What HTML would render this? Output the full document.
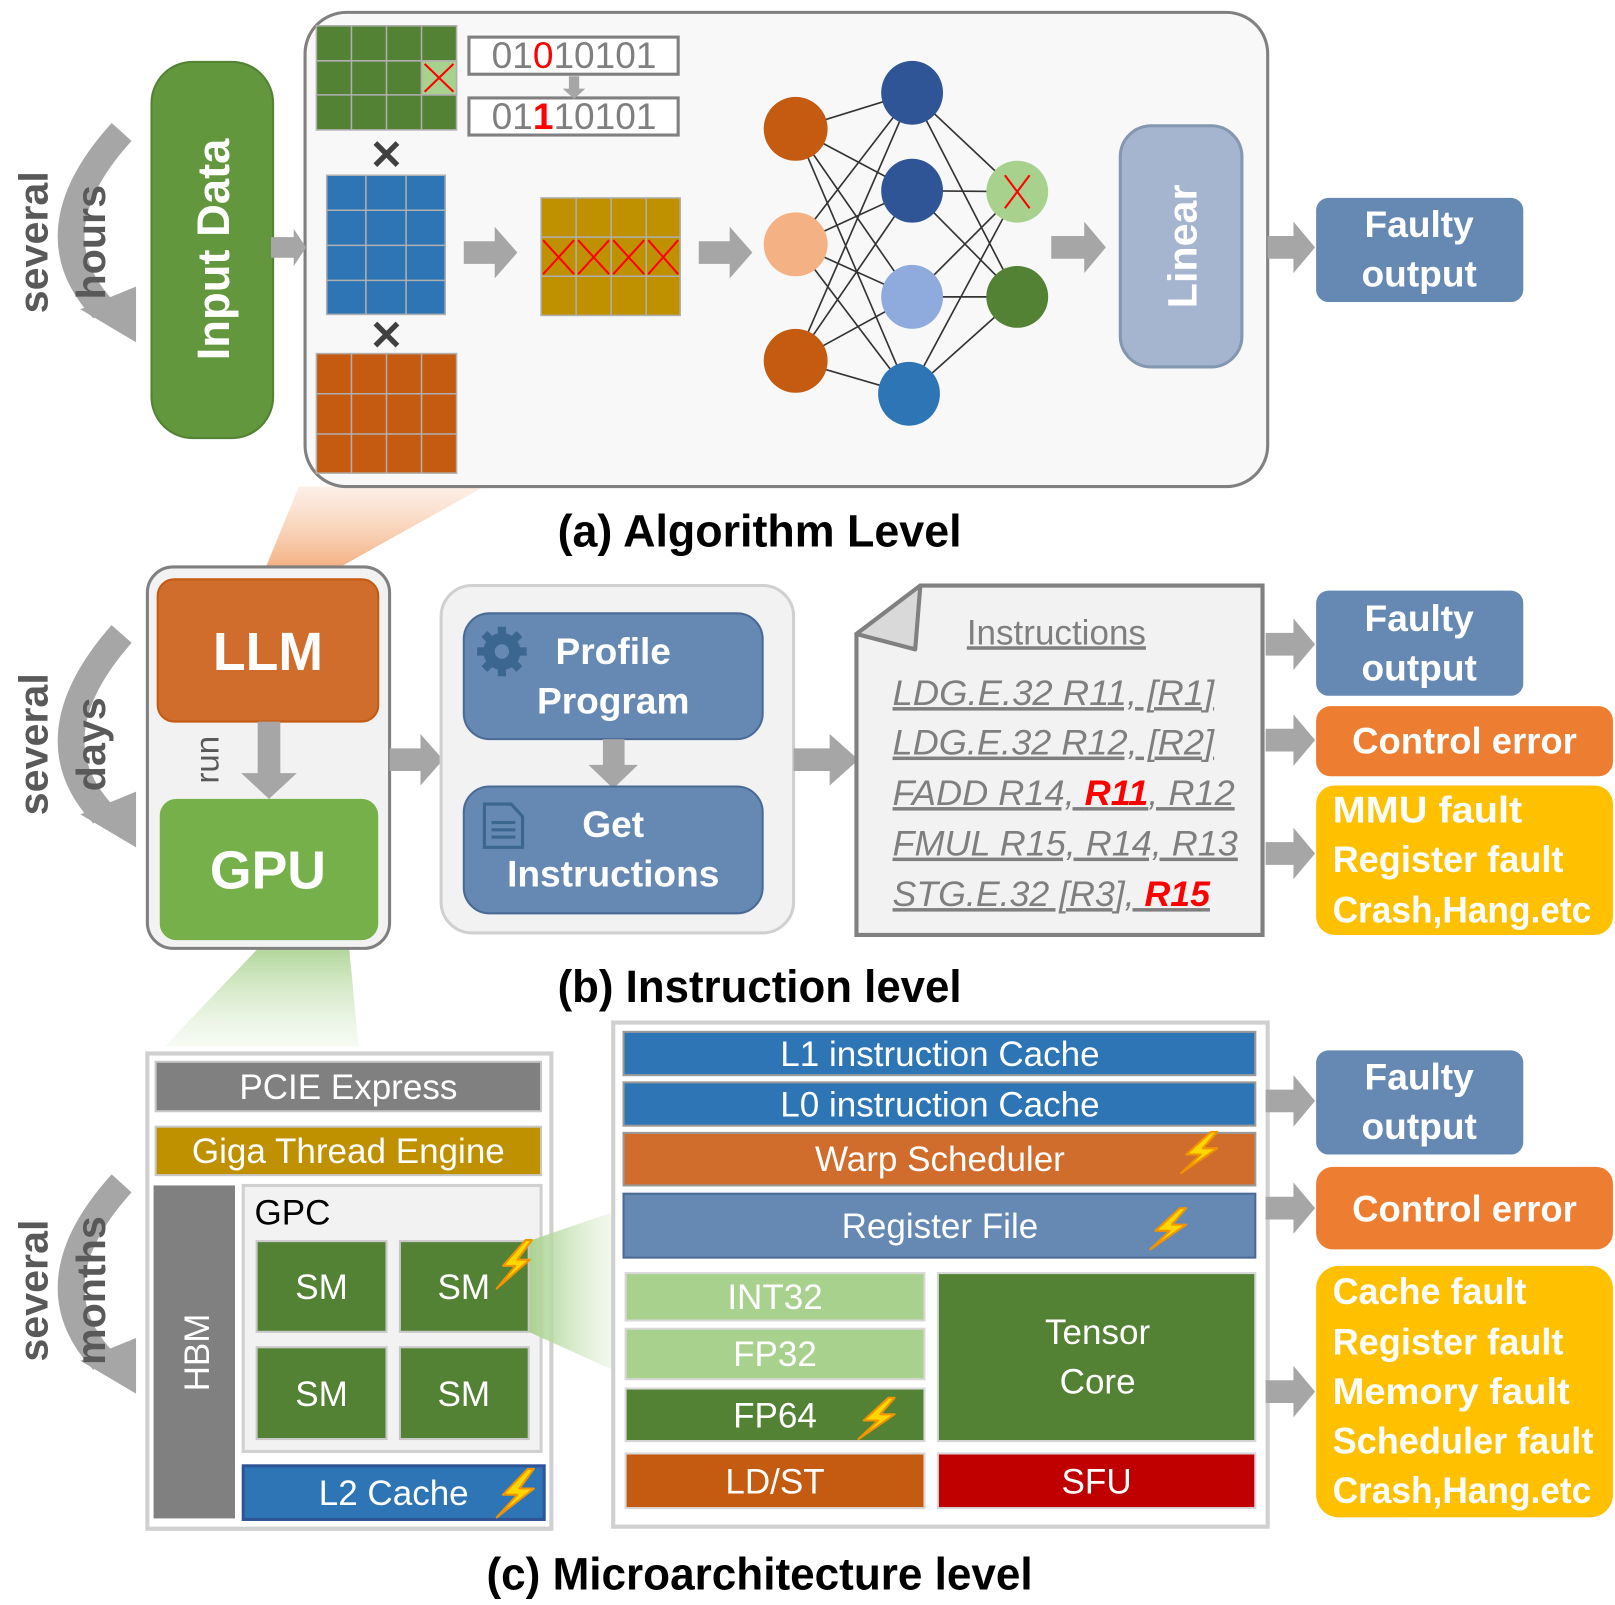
<!DOCTYPE html>
<html><head><meta charset="utf-8">
<style>
html,body{margin:0;padding:0;background:#fff;}
svg{display:block;}
text{font-family:"Liberation Sans Narrow","Liberation Sans",sans-serif;}
.w{fill:#fff;font-weight:bold;}
.wn{fill:#fff;}
</style></head><body>
<svg width="1615" height="1605" viewBox="0 0 1567 1557" preserveAspectRatio="none" xmlns="http://www.w3.org/2000/svg">
<defs>
<linearGradient id="peach" x1="0" y1="1" x2="0" y2="0"><stop offset="0" stop-color="#f4b183"/><stop offset="1" stop-color="#fbe5d6" stop-opacity="0.6"/></linearGradient>
<linearGradient id="grn" x1="0" y1="0" x2="0" y2="1"><stop offset="0" stop-color="#a9d18e"/><stop offset="1" stop-color="#e2f0d9" stop-opacity="0.3"/></linearGradient>
<linearGradient id="grnh" x1="0" y1="0" x2="1" y2="0"><stop offset="0" stop-color="#a9d18e"/><stop offset="1" stop-color="#e2f0d9" stop-opacity="0.4"/></linearGradient>
</defs>

<!-- ===== (a) ===== -->
<polygon points="290,472 470,472 330,550 258,550" fill="url(#peach)"/>
<rect x="296" y="12" width="934" height="460" rx="40" fill="#f8f8f8" stroke="#808080" stroke-width="3"/>

<path d="M118,128 Q30,225 100,300" fill="none" stroke="#a6a6a6" stroke-width="26"/>
<polygon points="78,300 132,278 132,332" fill="#a6a6a6"/>
<text transform="translate(46,235) rotate(-90)" text-anchor="middle" font-size="40" font-weight="bold" fill="#595959" font-family="Liberation Sans">several</text>
<text transform="translate(102,235) rotate(-90)" text-anchor="middle" font-size="40" font-weight="bold" fill="#595959" font-family="Liberation Sans">hours</text>

<rect x="147" y="60" width="118" height="365" rx="40" fill="#62973d" stroke="#548235" stroke-width="2"/>
<text transform="translate(222,242) rotate(-90)" text-anchor="middle" font-size="44" class="w" font-family="Liberation Sans">Input Data</text>

<g stroke="#b0b0b0" stroke-width="1.5">
<rect x="307" y="25" width="136" height="101" fill="#548235"/>
<rect x="409" y="59" width="34" height="33" fill="#a9d18e"/>
<line x1="341" y1="25" x2="341" y2="126"/><line x1="375" y1="25" x2="375" y2="126"/><line x1="409" y1="25" x2="409" y2="126"/>
<line x1="307" y1="59" x2="443" y2="59"/><line x1="307" y1="92" x2="443" y2="92"/>
</g>
<path d="M412,62 L440,89 M440,62 L412,89" stroke="#f00" stroke-width="2"/>
<rect x="455" y="36" width="203" height="36" fill="#fff" stroke="#808080" stroke-width="3"/>
<rect x="455" y="95" width="203" height="36" fill="#fff" stroke="#808080" stroke-width="3"/>
<text x="557" y="66" text-anchor="middle" font-size="36" fill="#7f7f7f" textLength="160" lengthAdjust="spacingAndGlyphs">01<tspan fill="#f00">0</tspan>10101</text>
<text x="557" y="125" text-anchor="middle" font-size="36" fill="#7f7f7f" textLength="160" lengthAdjust="spacingAndGlyphs">01<tspan fill="#f00" font-weight="bold">1</tspan>10101</text>
<polygon points="552,74 562,74 562,86 568,86 557,96 546,86 552,86" fill="#a6a6a6"/>
<text x="375" y="164" text-anchor="middle" font-size="40" font-weight="bold" fill="#404040" font-family="Liberation Sans">✕</text>
<text x="375" y="339" text-anchor="middle" font-size="40" font-weight="bold" fill="#404040" font-family="Liberation Sans">✕</text>
<g stroke="#b0b0b0" stroke-width="1.5">
<rect x="317" y="170" width="115" height="135" fill="#2e75b6"/>
<line x1="355" y1="170" x2="355" y2="305"/><line x1="394" y1="170" x2="394" y2="305"/>
<line x1="317" y1="204" x2="432" y2="204"/><line x1="317" y1="238" x2="432" y2="238"/><line x1="317" y1="272" x2="432" y2="272"/>
</g>
<g stroke="#b0b0b0" stroke-width="1.5">
<rect x="307" y="343" width="136" height="116" fill="#c55a11"/>
<line x1="341" y1="343" x2="341" y2="459"/><line x1="375" y1="343" x2="375" y2="459"/><line x1="409" y1="343" x2="409" y2="459"/>
<line x1="307" y1="382" x2="443" y2="382"/><line x1="307" y1="421" x2="443" y2="421"/>
</g>
<g stroke="#b0b0b0" stroke-width="1.5">
<rect x="525" y="192" width="135" height="114" fill="#bf9000"/>
<line x1="559" y1="192" x2="559" y2="306"/><line x1="593" y1="192" x2="593" y2="306"/><line x1="627" y1="192" x2="627" y2="306"/>
<line x1="525" y1="230" x2="660" y2="230"/><line x1="525" y1="268" x2="660" y2="268"/>
</g>
<path d="M527,233 L557,266 M557,233 L527,266 M561,233 L591,266 M591,233 L561,266 M595,233 L625,266 M625,233 L595,266 M629,233 L658,266 M658,233 L629,266" stroke="#f00" stroke-width="2"/>

<g fill="#a6a6a6">
<polygon points="263,230 285,230 285,222 297,240 285,258 285,250 263,250"/>
<polygon points="450,234 480,234 480,220 502,245 480,270 480,256 450,256"/>
<polygon points="678,234 708,234 708,220 730,245 708,270 708,256 678,256"/>
<polygon points="1020,229 1052,229 1052,215 1073,240 1052,265 1052,251 1020,251"/>
<polygon points="1230,229 1255,229 1255,215 1276,240 1255,265 1255,251 1230,251"/>
</g>

<g stroke="#333" stroke-width="1.6">
<path d="M772,125 L885,90 M772,125 L885,185 M772,125 L885,288 M772,125 L882,382
M772,237 L885,90 M772,237 L885,185 M772,237 L885,288 M772,237 L882,382
M772,350 L885,90 M772,350 L885,185 M772,350 L885,288 M772,350 L882,382
M885,90 L987,186 M885,90 L987,288 M885,185 L987,186 M885,185 L987,288
M885,288 L987,186 M885,288 L987,288 M882,382 L987,186 M882,382 L987,288"/>
</g>
<ellipse cx="772" cy="125" rx="31" ry="31" fill="#c55a11"/>
<ellipse cx="772" cy="237" rx="31" ry="31" fill="#f4b183"/>
<ellipse cx="772" cy="350" rx="31" ry="31" fill="#c55a11"/>
<ellipse cx="885" cy="90" rx="30" ry="31" fill="#2f5597"/>
<ellipse cx="885" cy="185" rx="30" ry="31" fill="#2f5597"/>
<ellipse cx="885" cy="288" rx="30" ry="31" fill="#8faadc"/>
<ellipse cx="882" cy="382" rx="30" ry="31" fill="#2e75b6"/>
<ellipse cx="987" cy="186" rx="30" ry="30" fill="#a9d18e"/>
<ellipse cx="987" cy="288" rx="30" ry="30" fill="#548235"/>
<path d="M975,170 L999,202 M999,170 L975,202" stroke="#f00" stroke-width="2"/>

<rect x="1087" y="122" width="118" height="234" rx="30" fill="#a5b5cf" stroke="#8497b0" stroke-width="3"/>
<text transform="translate(1161,239) rotate(-90)" text-anchor="middle" font-size="40" class="w" font-family="Liberation Sans">Linear</text>

<rect x="1277" y="192" width="201" height="101" rx="12" fill="#6589b3"/>
<text x="1377" y="230" text-anchor="middle" font-size="36" class="w">Faulty</text>
<text x="1377" y="278" text-anchor="middle" font-size="36" class="w">output</text>

<text x="737" y="530" text-anchor="middle" font-size="44" font-weight="bold" fill="#000" textLength="392" lengthAdjust="spacingAndGlyphs">(a) Algorithm  Level</text>

<!-- ===== (b) ===== -->
<path d="M118,615 Q30,715 100,790" fill="none" stroke="#a6a6a6" stroke-width="26"/>
<polygon points="78,790 132,768 132,822" fill="#a6a6a6"/>
<text transform="translate(46,722) rotate(-90)" text-anchor="middle" font-size="40" font-weight="bold" fill="#595959" font-family="Liberation Sans">several</text>
<text transform="translate(102,722) rotate(-90)" text-anchor="middle" font-size="40" font-weight="bold" fill="#595959" font-family="Liberation Sans">days</text>

<polygon points="258,912 338,912 348,1015 160,1015" fill="url(#grn)"/>
<rect x="143" y="550" width="235" height="370" rx="25" fill="#f2f2f2" stroke="#808080" stroke-width="3"/>
<rect x="153" y="562" width="214" height="138" rx="16" fill="#d06c2c" stroke="#c55a11" stroke-width="2"/>
<text x="260" y="650" text-anchor="middle" font-size="52" class="w">LLM</text>
<polygon points="250,700 272,700 272,750 288,750 261,775 234,750 250,750" fill="#a6a6a6"/>
<text transform="translate(212,737) rotate(-90)" text-anchor="middle" font-size="32" fill="#595959" font-family="Liberation Sans">run</text>
<rect x="155" y="775" width="212" height="137" rx="16" fill="#76b04a"/>
<text x="260" y="862" text-anchor="middle" font-size="52" class="w">GPU</text>

<polygon points="378,726 408,726 408,712 430,737 408,762 408,748 378,748" fill="#a6a6a6"/>
<rect x="428" y="568" width="342" height="337" rx="30" fill="#f2f2f2" stroke="#d0d0d0" stroke-width="3"/>
<rect x="450" y="595" width="290" height="122" rx="25" fill="#6589b3" stroke="#4a6a95" stroke-width="2"/>
<text x="595" y="644" text-anchor="middle" font-size="36" class="w">Profile</text>
<text x="595" y="692" text-anchor="middle" font-size="36" class="w">Program</text>
<g fill="#3b6690">
<circle cx="487" cy="632" r="18"/>
<g stroke="#3b6690" stroke-width="8"><line x1="487" y1="608" x2="487" y2="656"/><line x1="463" y1="632" x2="511" y2="632"/><line x1="470" y1="615" x2="504" y2="649"/><line x1="504" y1="615" x2="470" y2="649"/></g>
<circle cx="487" cy="632" r="7" fill="#6589b3"/>
</g>
<polygon points="585,717 606,717 606,742 619,742 595,765 571,742 585,742" fill="#a6a6a6"/>
<rect x="450" y="763" width="290" height="123" rx="25" fill="#6589b3" stroke="#4a6a95" stroke-width="2"/>
<text x="595" y="812" text-anchor="middle" font-size="36" class="w">Get</text>
<text x="595" y="860" text-anchor="middle" font-size="36" class="w">Instructions</text>
<path d="M470,780 L496,780 L507,792 L507,822 L470,822 Z" fill="none" stroke="#3b6690" stroke-width="3"/>
<g stroke="#3b6690" stroke-width="3"><line x1="477" y1="798" x2="500" y2="798"/><line x1="477" y1="805" x2="500" y2="805"/><line x1="477" y1="812" x2="500" y2="812"/></g>

<polygon points="770,726 805,726 805,712 833,737 805,762 805,748 770,748" fill="#a6a6a6"/>
<polygon points="893,568 1225,568 1225,907 831,907 831,615" fill="#f2f2f2" stroke="#808080" stroke-width="4"/>
<polygon points="831,615 893,568 888,630" fill="#d9d9d9" stroke="#808080" stroke-width="4" stroke-linejoin="round"/>
<text x="1025" y="625" text-anchor="middle" font-size="34" fill="#7f7f7f" text-decoration="underline" font-family="Liberation Sans">Instructions</text>
<g font-size="34" fill="#7f7f7f" font-style="italic" text-decoration="underline">
<text x="866" y="684" textLength="312" lengthAdjust="spacingAndGlyphs">LDG.E.32 R11, [R1]</text>
<text x="866" y="732" textLength="312" lengthAdjust="spacingAndGlyphs">LDG.E.32 R12, [R2]</text>
<text x="866" y="781" textLength="332" lengthAdjust="spacingAndGlyphs">FADD R14, <tspan fill="#f00" font-weight="bold">R11</tspan>, R12</text>
<text x="866" y="830" textLength="335" lengthAdjust="spacingAndGlyphs">FMUL R15, R14, R13</text>
<text x="866" y="879" textLength="308" lengthAdjust="spacingAndGlyphs">STG.E.32 [R3], <tspan fill="#f00" font-weight="bold">R15</tspan></text>
</g>

<g fill="#a6a6a6">
<polygon points="1228,614 1255,614 1255,600 1276,625 1255,650 1255,636 1228,636"/>
<polygon points="1228,707 1255,707 1255,693 1276,718 1255,743 1255,729 1228,729"/>
<polygon points="1228,817 1255,817 1255,803 1276,828 1255,853 1255,839 1228,839"/>
</g>
<rect x="1277" y="573" width="201" height="102" rx="12" fill="#6589b3"/>
<text x="1377" y="612" text-anchor="middle" font-size="36" class="w">Faulty</text>
<text x="1377" y="660" text-anchor="middle" font-size="36" class="w">output</text>
<rect x="1277" y="685" width="288" height="68" rx="14" fill="#ed7d31"/>
<text x="1421" y="731" text-anchor="middle" font-size="36" class="w" textLength="218" lengthAdjust="spacingAndGlyphs">Control error</text>
<rect x="1277" y="762" width="288" height="145" rx="18" fill="#ffc000"/>
<g font-size="36" class="w">
<text x="1293" y="798" textLength="184" lengthAdjust="spacingAndGlyphs">MMU fault</text>
<text x="1293" y="846" textLength="224" lengthAdjust="spacingAndGlyphs">Register fault</text>
<text x="1293" y="895" textLength="251" lengthAdjust="spacingAndGlyphs">Crash,Hang.etc</text>
</g>

<text x="737" y="972" text-anchor="middle" font-size="44" font-weight="bold" fill="#000" textLength="392" lengthAdjust="spacingAndGlyphs">(b) Instruction level</text>

<!-- ===== (c) ===== -->
<path d="M118,1148 Q30,1245 100,1320" fill="none" stroke="#a6a6a6" stroke-width="26"/>
<polygon points="78,1320 132,1298 132,1352" fill="#a6a6a6"/>
<text transform="translate(46,1252) rotate(-90)" text-anchor="middle" font-size="40" font-weight="bold" fill="#595959" font-family="Liberation Sans">several</text>
<text transform="translate(102,1252) rotate(-90)" text-anchor="middle" font-size="40" font-weight="bold" fill="#595959" font-family="Liberation Sans">months</text>

<rect x="143" y="1022" width="392" height="461" fill="#fff" stroke="#d0d0d0" stroke-width="4"/>
<rect x="151" y="1030" width="374" height="48" fill="#808080" stroke="#c8c8c8" stroke-width="2"/>
<text x="338" y="1066" text-anchor="middle" font-size="34" class="wn">PCIE Express</text>
<rect x="151" y="1093" width="374" height="47" fill="#bf9000" stroke="#c8c8c8" stroke-width="2"/>
<text x="338" y="1128" text-anchor="middle" font-size="34" class="wn">Giga Thread Engine</text>
<rect x="149" y="1150" width="79" height="323" fill="#808080"/>
<text transform="translate(203,1312) rotate(-90)" text-anchor="middle" font-size="34" class="wn" font-family="Liberation Sans">HBM</text>
<rect x="236" y="1150" width="289" height="258" fill="#f2f2f2" stroke="#d0d0d0" stroke-width="3"/>
<text x="247" y="1188" font-size="34" fill="#000">GPC</text>
<polygon points="513,1204 597,1175 597,1330 513,1292" fill="url(#grnh)"/>
<g fill="#548235" stroke="#c8c8c8" stroke-width="2">
<rect x="249" y="1204" width="126" height="88"/><rect x="388" y="1204" width="125" height="88"/>
<rect x="249" y="1307" width="126" height="89"/><rect x="388" y="1307" width="125" height="89"/>
</g>
<g font-size="34" class="wn" text-anchor="middle">
<text x="312" y="1260">SM</text><text x="450" y="1260">SM</text>
<text x="312" y="1364">SM</text><text x="450" y="1364">SM</text>
</g>
<rect x="236" y="1422" width="292" height="52" fill="#2e75b6" stroke="#2f5597" stroke-width="3"/>
<text x="382" y="1460" text-anchor="middle" font-size="34" class="wn">L2 Cache</text>

<rect x="595" y="992" width="635" height="489" fill="#fff" stroke="#d0d0d0" stroke-width="4"/>
<g stroke="#9a9a9a" stroke-width="2">
<rect x="605" y="1001" width="613" height="42" fill="#2e75b6"/>
<rect x="605" y="1050" width="613" height="42" fill="#2e75b6"/>
<rect x="605" y="1099" width="613" height="51" fill="#d06c2c"/>
<rect x="605" y="1158" width="613" height="62" fill="#6589b3" stroke="#4a6a95"/>
<rect x="607" y="1235" width="290" height="46" fill="#a9d18e" stroke="#d8d8d8"/>
<rect x="607" y="1289" width="290" height="49" fill="#a9d18e" stroke="#d8d8d8"/>
<rect x="607" y="1347" width="290" height="51" fill="#548235" stroke="#d8d8d8"/>
<rect x="607" y="1410" width="290" height="53" fill="#c55a11" stroke="#d8d8d8"/>
<rect x="910" y="1235" width="308" height="163" fill="#548235" stroke="#d8d8d8"/>
<rect x="910" y="1410" width="308" height="53" fill="#c00000" stroke="#d8d8d8"/>
</g>
<g font-size="34" class="wn" text-anchor="middle">
<text x="912" y="1034">L1 instruction Cache</text>
<text x="912" y="1083">L0 instruction Cache</text>
<text x="912" y="1136">Warp Scheduler</text>
<text x="912" y="1201">Register File</text>
<text x="752" y="1270">INT32</text>
<text x="752" y="1325">FP32</text>
<text x="752" y="1385">FP64</text>
<text x="752" y="1449">LD/ST</text>
<text x="1065" y="1304">Tensor</text>
<text x="1065" y="1352">Core</text>
<text x="1064" y="1449">SFU</text>
</g>
<g fill="#ffd700" stroke="#f29400" stroke-width="2" stroke-linejoin="round">
<path d="M510,1203 L488,1228 L500,1228 L482,1250 L514,1222 L502,1222 L516,1203 Z"/>
<path d="M512,1425 L488,1450 L502,1450 L482,1472 L518,1444 L504,1444 L518,1425 Z"/>
<path d="M1175,1098 L1151,1120 L1165,1120 L1146,1138 L1181,1114 L1167,1114 L1181,1098 Z"/>
<path d="M1145,1172 L1121,1194 L1135,1194 L1116,1212 L1151,1188 L1137,1188 L1151,1172 Z"/>
<path d="M862,1356 L838,1378 L852,1378 L833,1396 L868,1372 L854,1372 L868,1356 Z"/>
</g>

<g fill="#a6a6a6">
<polygon points="1228,1057 1255,1057 1255,1043 1276,1068 1255,1093 1255,1079 1228,1079"/>
<polygon points="1228,1161 1255,1161 1255,1147 1276,1172 1255,1197 1255,1183 1228,1183"/>
<polygon points="1228,1339 1255,1339 1255,1325 1276,1350 1255,1375 1255,1361 1228,1361"/>
</g>
<rect x="1277" y="1019" width="201" height="101" rx="12" fill="#6589b3"/>
<text x="1377" y="1057" text-anchor="middle" font-size="36" class="w">Faulty</text>
<text x="1377" y="1105" text-anchor="middle" font-size="36" class="w">output</text>
<rect x="1277" y="1132" width="288" height="80" rx="16" fill="#ed7d31"/>
<text x="1421" y="1185" text-anchor="middle" font-size="36" class="w" textLength="218" lengthAdjust="spacingAndGlyphs">Control error</text>
<rect x="1277" y="1228" width="288" height="244" rx="22" fill="#ffc000"/>
<g font-size="36" class="w">
<text x="1293" y="1265" textLength="188" lengthAdjust="spacingAndGlyphs">Cache fault</text>
<text x="1293" y="1314" textLength="224" lengthAdjust="spacingAndGlyphs">Register fault</text>
<text x="1293" y="1362" textLength="230" lengthAdjust="spacingAndGlyphs">Memory fault</text>
<text x="1293" y="1410" textLength="253" lengthAdjust="spacingAndGlyphs">Scheduler fault</text>
<text x="1293" y="1458" textLength="251" lengthAdjust="spacingAndGlyphs">Crash,Hang.etc</text>
</g>

<text x="737" y="1542" text-anchor="middle" font-size="44" font-weight="bold" fill="#000" textLength="530" lengthAdjust="spacingAndGlyphs">(c) Microarchitecture level</text>
</svg>
</body></html>
